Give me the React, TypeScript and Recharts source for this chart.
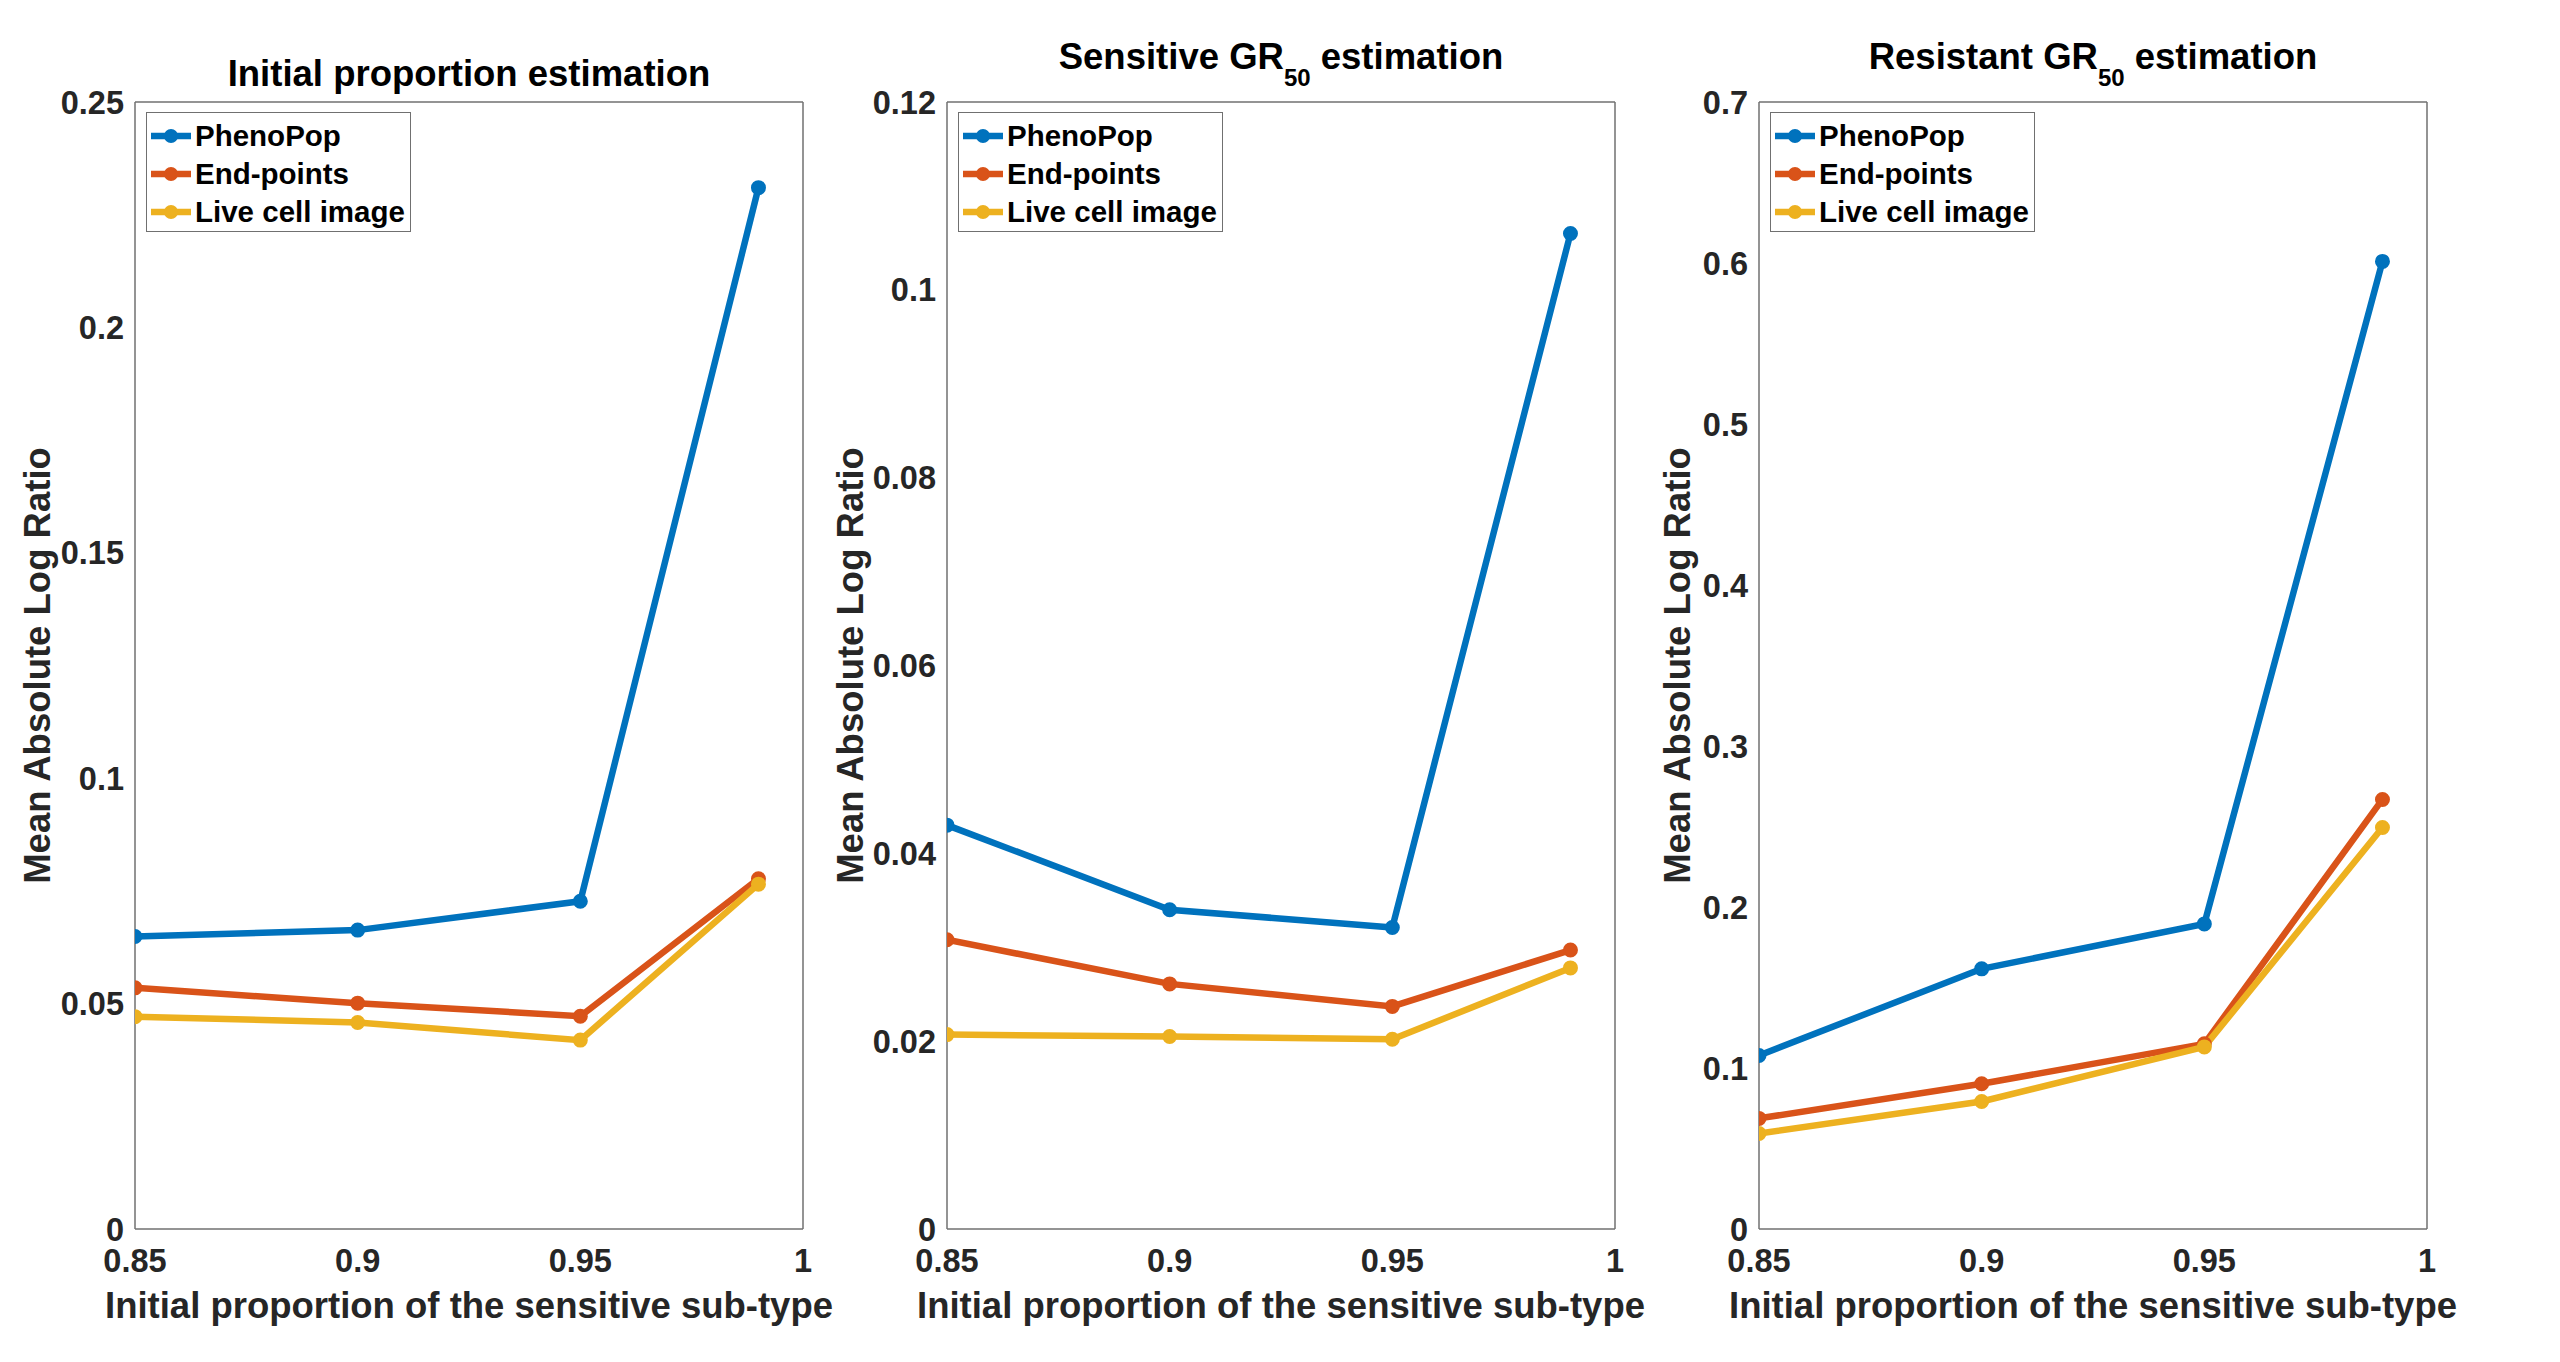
import { LineChart, Line, XAxis, YAxis, Legend, Label } from 'recharts';

const FONT = '"Liberation Sans", Arial, Helvetica, sans-serif';
const AXIS_COLOR = '#707070';
const TEXT_COLOR = '#262626';

// initial proportion of the sensitive sub-type
const X_VALUES = [0.85, 0.9, 0.95, 0.99];
const X_TICKS = [0.85, 0.9, 0.95, 1];

// Initial proportion estimation
const PROP_PHENOPOP = [0.0649, 0.0663, 0.0727, 0.231];
const PROP_ENDPOINTS = [0.0535, 0.0501, 0.0472, 0.0777];
const PROP_LIVE = [0.0471, 0.0458, 0.0419, 0.0765];
const PROP_TICKS = [0, 0.05, 0.1, 0.15, 0.2, 0.25];

// Sensitive GR50 estimation
const SENS_PHENOPOP = [0.043, 0.034, 0.0321, 0.106];
const SENS_ENDPOINTS = [0.0308, 0.0261, 0.0237, 0.0297];
const SENS_LIVE = [0.0207, 0.0205, 0.0202, 0.0278];
const SENS_TICKS = [0, 0.02, 0.04, 0.06, 0.08, 0.1, 0.12];

// Resistant GR50 estimation
const RES_PHENOPOP = [0.1078, 0.1616, 0.1895, 0.601];
const RES_ENDPOINTS = [0.0687, 0.0902, 0.115, 0.2668];
const RES_LIVE = [0.0593, 0.0792, 0.1131, 0.2494];
const RES_TICKS = [0, 0.1, 0.2, 0.3, 0.4, 0.5, 0.6, 0.7];

const SERIES = [
  { key: 'phenopop', name: 'PhenoPop', color: '#0072BD' },
  { key: 'endpoints', name: 'End-points', color: '#D95319' },
  { key: 'live', name: 'Live cell image', color: '#EDB120' },
];

const buildRows = (a: number[], b: number[], c: number[]) =>
  X_VALUES.map((x, i) => ({ x, phenopop: a[i], endpoints: b[i], live: c[i] }));

const fmt = (v: number) => String(Number(v.toFixed(4)));

const PLOT_W = 668;
const PAD_LEFT = 135;
const PAD_RIGHT = 70;
const LINE_W = 6.5;

function LegendBox() {
  return (
    <div
      style={{
        width: 265,
        height: 120,
        boxSizing: 'border-box',
        border: `1.5px solid ${AXIS_COLOR}`,
        background: '#fff',
        paddingTop: 4,
      }}
    >
      {SERIES.map((s) => (
        <div key={s.key} style={{ display: 'flex', alignItems: 'center', height: 38 }}>
          <svg width={46} height={38} style={{ flex: 'none' }}>
            <line x1={4} y1={19} x2={44} y2={19} stroke={s.color} strokeWidth={LINE_W} />
            <circle cx={24} cy={19} r={6} fill={s.color} stroke={s.color} strokeWidth={2} />
          </svg>
          <span
            style={{
              fontFamily: FONT,
              fontWeight: 700,
              fontSize: 29.5,
              lineHeight: 1,
              color: '#000',
              marginLeft: 2,
              whiteSpace: 'nowrap',
            }}
          >
            {s.name}
          </span>
        </div>
      ))}
    </div>
  );
}

interface PanelProps {
  plotLeft: number;
  title: React.ReactNode;
  titleTop: number;
  rows: { x: number; phenopop: number; endpoints: number; live: number }[];
  yTicks: number[];
  labelGap: number;
}

function Panel({ plotLeft, title, titleTop, rows, yTicks, labelGap }: PanelProps) {
  const yMax = yTicks[yTicks.length - 1];
  const tickStyle = { fill: TEXT_COLOR, fontSize: 32.5, fontWeight: 700, fontFamily: FONT };
  const lineStyle = { stroke: AXIS_COLOR, strokeWidth: 1.5 };

  return (
    <div style={{ position: 'absolute', left: plotLeft - PAD_LEFT, top: 0 }}>
      <div
        style={{
          position: 'absolute',
          left: PAD_LEFT,
          top: titleTop,
          width: PLOT_W,
          textAlign: 'center',
          fontFamily: FONT,
          fontWeight: 700,
          fontSize: 36.5,
          lineHeight: '36px',
          color: '#000',
          whiteSpace: 'nowrap',
          zIndex: 2,
        }}
      >
        {title}
      </div>
      <LineChart
        width={PAD_LEFT + PLOT_W + PAD_RIGHT}
        height={1362}
        data={rows}
        margin={{ top: 102, right: PAD_RIGHT, bottom: 33, left: 35 }}
      >
        <XAxis
          xAxisId="x"
          type="number"
          dataKey="x"
          domain={[0.85, 1]}
          ticks={X_TICKS}
          allowDataOverflow
          interval={0}
          height={100}
          tickSize={0}
          tickMargin={20}
          tickLine={false}
          axisLine={lineStyle}
          tick={tickStyle}
          tickFormatter={fmt}
        >
          <Label
            content={(p: any) => {
              const vb = p.viewBox;
              return (
                <text
                  x={vb.x + vb.width / 2}
                  y={vb.y + 89}
                  textAnchor="middle"
                  fill={TEXT_COLOR}
                  fontFamily={FONT}
                  fontWeight={700}
                  fontSize={36.5}
                >
                  Initial proportion of the sensitive sub-type
                </text>
              );
            }}
          />
        </XAxis>
        <XAxis
          xAxisId="xin"
          type="number"
          domain={[0.85, 1]}
          ticks={X_TICKS}
          allowDataOverflow
          interval={0}
          orientation="bottom"
          mirror
          tick={false}
          tickSize={11}
          tickLine={lineStyle}
          axisLine={false}
        />
        <XAxis
          xAxisId="xtop"
          type="number"
          domain={[0.85, 1]}
          ticks={X_TICKS}
          allowDataOverflow
          interval={0}
          orientation="top"
          mirror
          tick={false}
          tickSize={11}
          tickLine={lineStyle}
          axisLine={lineStyle}
        />
        <YAxis
          yAxisId="y"
          type="number"
          domain={[0, yMax]}
          ticks={yTicks}
          allowDataOverflow
          interval={0}
          width={100}
          tickSize={0}
          tickMargin={11}
          tickLine={false}
          axisLine={lineStyle}
          tick={tickStyle}
          tickFormatter={fmt}
        >
          <Label
            content={(p: any) => {
              const vb = p.viewBox;
              const cx = vb.x + vb.width - labelGap;
              const cy = vb.y + vb.height / 2;
              return (
                <text
                  x={cx}
                  y={cy}
                  transform={`rotate(-90 ${cx} ${cy})`}
                  textAnchor="middle"
                  dominantBaseline="central"
                  fill={TEXT_COLOR}
                  fontFamily={FONT}
                  fontWeight={700}
                  fontSize={36.5}
                >
                  Mean Absolute Log Ratio
                </text>
              );
            }}
          />
        </YAxis>
        <YAxis
          yAxisId="yin"
          type="number"
          domain={[0, yMax]}
          ticks={yTicks}
          allowDataOverflow
          interval={0}
          orientation="left"
          mirror
          tick={false}
          tickSize={11}
          tickLine={lineStyle}
          axisLine={false}
        />
        <YAxis
          yAxisId="yright"
          type="number"
          domain={[0, yMax]}
          ticks={yTicks}
          allowDataOverflow
          interval={0}
          orientation="right"
          mirror
          tick={false}
          tickSize={11}
          tickLine={lineStyle}
          axisLine={lineStyle}
        />
        <Legend
          layout="vertical"
          align="center"
          verticalAlign="middle"
          wrapperStyle={{ left: PAD_LEFT + 11, top: 112, width: 'auto', height: 'auto' }}
          content={() => <LegendBox />}
        />
        {SERIES.map((s) => (
          <Line
            key={s.key}
            xAxisId="x"
            yAxisId="y"
            type="linear"
            dataKey={s.key}
            name={s.name}
            stroke={s.color}
            strokeWidth={LINE_W}
            dot={{ r: 6.5, fill: s.color, stroke: s.color, strokeWidth: 2 }}
            activeDot={false}
            isAnimationActive={false}
          />
        ))}
      </LineChart>
    </div>
  );
}

const GR50 = (prefix: string) => (
  <>
    {prefix} GR
    <span style={{ fontSize: 24, position: 'relative', top: 17 }}>50</span> estimation
  </>
);

export default function App() {
  return (
    <div
      style={{
        position: 'absolute',
        left: 0,
        top: 0,
        width: 2560,
        height: 1362,
        background: '#fff',
        overflow: 'hidden',
      }}
    >
      <Panel
        plotLeft={135}
        title="Initial proportion estimation"
        titleTop={56}
        rows={buildRows(PROP_PHENOPOP, PROP_ENDPOINTS, PROP_LIVE)}
        yTicks={PROP_TICKS}
        labelGap={98}
      />
      <Panel
        plotLeft={947}
        title={GR50('Sensitive')}
        titleTop={39}
        rows={buildRows(SENS_PHENOPOP, SENS_ENDPOINTS, SENS_LIVE)}
        yTicks={SENS_TICKS}
        labelGap={97}
      />
      <Panel
        plotLeft={1759}
        title={GR50('Resistant')}
        titleTop={39}
        rows={buildRows(RES_PHENOPOP, RES_ENDPOINTS, RES_LIVE)}
        yTicks={RES_TICKS}
        labelGap={82}
      />
    </div>
  );
}
